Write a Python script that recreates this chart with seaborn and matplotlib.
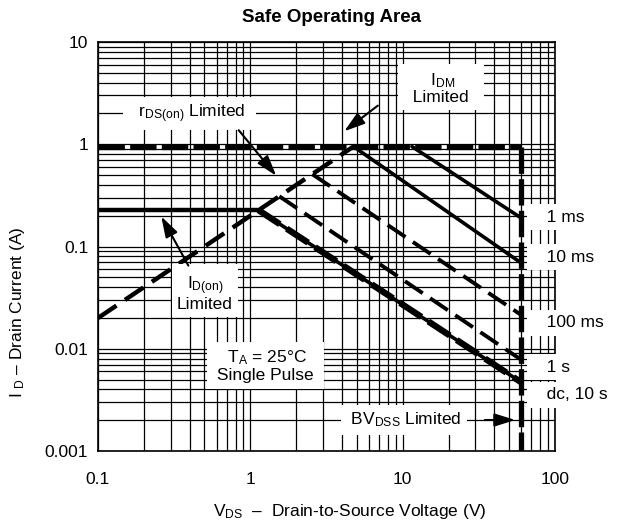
import matplotlib
matplotlib.use("Agg")
import matplotlib.pyplot as plt
import seaborn as sns
from matplotlib.ticker import FixedLocator, FixedFormatter, LogLocator, NullFormatter

# Safe Operating Area - limit lines (V, A)
idm_v = [0.1, 60]
idm_i = [0.95, 0.95]
bv_v = [60, 60]
bv_i = [0.95, 0.001]
rds_v = [0.1, 4.75]
rds_i = [0.02, 0.95]
idon_v = [0.1, 1.13]
idon_i = [0.227, 0.227]
ms1_v = [11.5, 60]
ms1_i = [0.95, 0.19]
ms10_v = [4.75, 60]
ms10_i = [0.95, 0.069]
ms100_v = [2.55, 60]
ms100_i = [0.51, 0.0214]
s1_v = [1.55, 60]
s1_i = [0.31, 0.0078]
s10_v = [1.13, 60]
s10_i = [0.227, 0.0047]
dc_v = [1.13, 60]
dc_i = [0.227, 0.0047]

x_ticks = [0.1, 1, 10, 100]
x_labels = ["0.1", "1", "10", "100"]
y_ticks = [0.001, 0.01, 0.1, 1, 10]
y_labels = ["0.001", "0.01", "0.1", "1", "10"]

sns.set_style("white")
plt.rcParams["font.family"] = ["Liberation Sans", "DejaVu Sans"]
plt.rcParams["text.color"] = "black"
plt.rcParams["axes.labelcolor"] = "black"
plt.rcParams["mathtext.fontset"] = "custom"
plt.rcParams["mathtext.rm"] = "Liberation Sans"
plt.rcParams["mathtext.it"] = "Liberation Sans:italic"
plt.rcParams["mathtext.bf"] = "Liberation Sans:bold"

fig = plt.figure(figsize=(6.25, 5.24), dpi=100)
ax = fig.add_axes([0.1568, 0.1393, 0.7312, 0.7805])
ax.set_xscale("log")
ax.set_yscale("log")

# линии
def seg(x, y, lw, ls="-", z=3):
    sns.lineplot(x=x, y=y, ax=ax, color="black", linewidth=lw, linestyle=ls,
                 estimator=None, sort=False, zorder=z)

seg(idm_v, idm_i, 3.8, (0, (5, 1.0)))
seg(bv_v, bv_i, 3.8, (0, (5, 1.0)))
seg(rds_v, rds_i, 3.2, (0, (5, 2.3)))
seg(idon_v, idon_i, 3.2)
seg(ms1_v, ms1_i, 2.6)
seg(ms10_v, ms10_i, 2.6)
seg(ms100_v, ms100_i, 2.8, (0, (5.5, 2.3)))
seg(s1_v, s1_i, 2.8, (0, (5.5, 2.3)))
seg(s10_v, s10_i, 2.6)
seg(dc_v, dc_i, 4.6, (0, (4, 1.3)), z=4)

ax.set_xlim(0.1, 100)
ax.set_ylim(0.001, 10)

ax.xaxis.set_major_locator(FixedLocator(x_ticks))
ax.xaxis.set_major_formatter(FixedFormatter(x_labels))
ax.yaxis.set_major_locator(FixedLocator(y_ticks))
ax.yaxis.set_major_formatter(FixedFormatter(y_labels))
ax.xaxis.set_minor_locator(LogLocator(base=10, subs=range(2, 10)))
ax.yaxis.set_minor_locator(LogLocator(base=10, subs=range(2, 10)))
ax.xaxis.set_minor_formatter(NullFormatter())
ax.yaxis.set_minor_formatter(NullFormatter())

ax.grid(which="both", color="black", linewidth=0.9)
ax.set_axisbelow(True)
ax.tick_params(which="both", length=0, labelsize=12.5, colors="black")
ax.tick_params(axis="x", pad=15)
ax.tick_params(axis="y", pad=7)
for s in ax.spines.values():
    s.set_color("black")
    s.set_linewidth(1.2)

ax.set_xlabel(r"$\mathregular{V_{DS}}$  –  Drain-to-Source Voltage (V)", fontsize=12.5)
ax.xaxis.set_label_coords(0.551, -0.125)
ax.set_ylabel(r"I $\mathregular{_D}$ – Drain Current (A)", fontsize=12.5)
ax.yaxis.set_label_coords(-0.155, 0.34)
ax.text(0.512, 1.061, "Safe Operating Area", transform=ax.transAxes,
        ha="center", va="center", fontsize=13.5, fontweight="bold")

box = dict(boxstyle="square,pad=0.3", fc="white", ec="none")
tk = dict(ha="center", va="center", fontsize=12.5, zorder=10, bbox=box)

ax.text(0.40, 2.0, r"  $\mathregular{r_{DS(on)}}$ Limited  ", **tk)
ax.text(17.9, 3.55, "   $\\mathregular{I_{DM}}$   \n  Limited  ", linespacing=1.0, **tk)
ax.text(0.504, 0.035, "$\\mathregular{I_{D(on)}}$\nLimited", linespacing=1.0, **tk)
ax.text(1.25, 0.0068, " $\\mathregular{T_A}$ = 25°C \n Single Pulse ", linespacing=1.1, **tk)
ax.text(10.2, 0.00201, " $\\mathregular{BV_{DSS}}$ Limited ", **tk)

rk = dict(ha="left", va="center", fontsize=12.5, zorder=10, clip_on=False,
          bbox=dict(boxstyle="square,pad=0.3", fc="white", ec="none"))
ax.text(70.6, 0.194, "   1 ms", **rk)
ax.text(70.6, 0.0789, "   10 ms", **rk)
ax.text(70.6, 0.0179, "   100 ms", **rk)
ax.text(70.6, 0.00663, "   1 s", **rk)
ax.text(70.6, 0.00353, "   dc, 10 s", **rk)

arrow = dict(arrowstyle="-|>,head_length=0.7,head_width=0.22", color="black",
             lw=1.5, mutation_scale=18)
ax.annotate("", xy=(1.52, 0.468), xytext=(0.817, 1.44), arrowprops=arrow, zorder=11)
ax.annotate("", xy=(4.0, 1.29), xytext=(7.1, 2.48), arrowprops=arrow, zorder=11)
ax.annotate("", xy=(0.255, 0.208), xytext=(0.40, 0.0616), arrowprops=arrow, zorder=11)
ax.annotate("", xy=(57.2, 0.00201), xytext=(33.2, 0.00201), arrowprops=arrow, zorder=11)

fig.savefig("out.png", dpi=100)
